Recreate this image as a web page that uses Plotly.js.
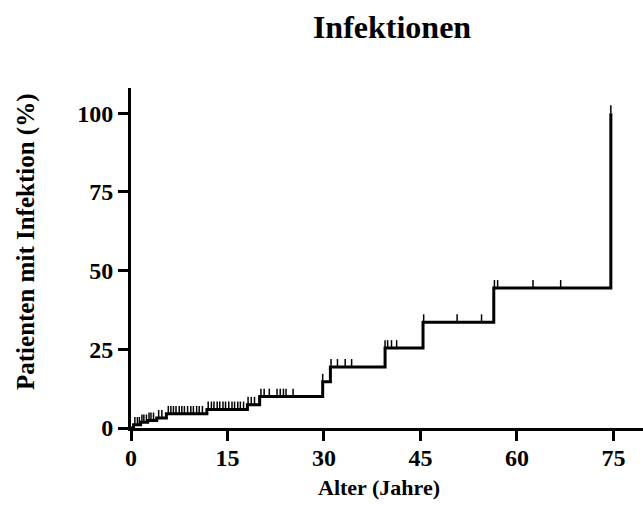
<!DOCTYPE html>
<html>
<head>
<meta charset="utf-8">
<script src="https://cdn.plot.ly/plotly-3.0.1.min.js"></script>
<style>html,body{margin:0;padding:0;background:#fff}#chart{width:643px;height:515px}</style>
</head>
<body>
<div id="chart"></div>
<script>
// Step (event) times in years and cumulative incidence (%) after each step
const stepAges   = [0.4, 1.5, 2.6, 4.0, 5.5, 11.8, 18.1, 20.0, 29.8, 31.0, 39.5, 45.4, 56.4, 74.6];
const stepLevels = [1.0, 1.8, 2.4, 3.2, 4.5, 5.9, 7.4, 10.0, 14.7, 19.4, 25.4, 33.6, 44.5, 100];
// Censored observations (years)
const censorAges = [0.6, 1.0, 1.3, 1.7, 2.0, 2.4, 2.8, 3.1, 3.5, 4.3, 4.8,
  5.8, 6.2, 6.6, 7.0, 7.5, 7.9, 8.3, 8.8, 9.3, 9.7, 10.2, 10.6, 11.1,
  12.0, 12.5, 12.9, 13.4, 13.8, 14.3, 14.7, 15.2, 15.7, 16.1, 16.6, 17.0, 17.5,
  18.2, 18.7, 19.2,
  20.2, 20.7, 21.5, 22.7, 23.2, 23.7, 24.1, 25.2,
  29.8,
  31.1, 32.1, 33.3, 34.3,
  39.5, 39.9, 40.5, 41.3,
  45.5, 50.7, 54.5,
  56.5, 57.0, 62.5, 66.8,
  74.6];
const xTicks = [0, 15, 30, 45, 60, 75];
const yTicks = [0, 25, 50, 75, 100];

function levelAt(t) {
  let v = 0;
  for (let i = 0; i < stepAges.length; i++) if (stepAges[i] <= t) v = stepLevels[i];
  return v;
}

const lineX = [0].concat(stepAges);
const lineY = [0].concat(stepLevels);
const censorY = censorAges.map(levelAt);

const font = 'Liberation Serif, Times New Roman, serif';

const traces = [
  {x: lineX, y: lineY, mode: 'lines', line: {shape: 'hv', color: '#000', width: 3},
   hoverinfo: 'skip', showlegend: false, cliponaxis: false},
  {x: censorAges, y: censorY, mode: 'markers', marker: {size: 0.1, color: '#000'},
   error_y: {type: 'constant', symmetric: false, value: 2.5, valueminus: 0, width: 0, thickness: 1.5, color: '#000'},
   showlegend: false, cliponaxis: false}
];

const W = 512, H = 340, L = 131, T = 88;
const layout = {
  width: 643, height: 515,
  margin: {l: L, r: 0, t: T, b: 87},
  paper_bgcolor: '#fff', plot_bgcolor: '#fff',
  showlegend: false,
  title: {text: '<b>Infektionen</b>', font: {family: font, size: 32, color: '#000'},
          x: (392 - L) / W, xref: 'paper', xanchor: 'center', y: 0.948, yref: 'container', yanchor: 'middle'},
  xaxis: {range: [0, 79.6], tickvals: xTicks, ticktext: xTicks.map(String),
          showgrid: false, zeroline: false, showline: true, linecolor: '#000', linewidth: 3,
          ticks: 'outside', ticklen: 10, tickwidth: 3, tickcolor: '#000', ticklabelstandoff: -4,
          tickfont: {family: font, size: 24, color: '#000', weight: 'bold'}},
  yaxis: {range: [0, 108], tickvals: yTicks, ticktext: yTicks.map(String),
          showgrid: false, zeroline: false, showline: true, linecolor: '#000', linewidth: 3,
          ticks: 'outside', ticklen: 10, tickwidth: 3, tickcolor: '#000',
          tickfont: {family: font, size: 24, color: '#000', weight: 'bold'}},
  annotations: [
    {text: '<b>Alter (Jahre)</b>', xref: 'paper', yref: 'paper',
     x: (379 - L) / W, y: -(487 - T - H) / H, xanchor: 'center', yanchor: 'middle',
     showarrow: false, font: {family: font, size: 22, color: '#000'}},
    {text: '<b>Patienten mit Infektion (%)</b>', xref: 'paper', yref: 'paper',
     x: -(L - 26) / W, y: (T + H - 242) / H, xanchor: 'center', yanchor: 'middle', textangle: -90,
     showarrow: false, font: {family: font, size: 25, color: '#000'}}
  ]
};

Plotly.newPlot('chart', traces, layout, {displayModeBar: false, staticPlot: true});
</script>
</body>
</html>
